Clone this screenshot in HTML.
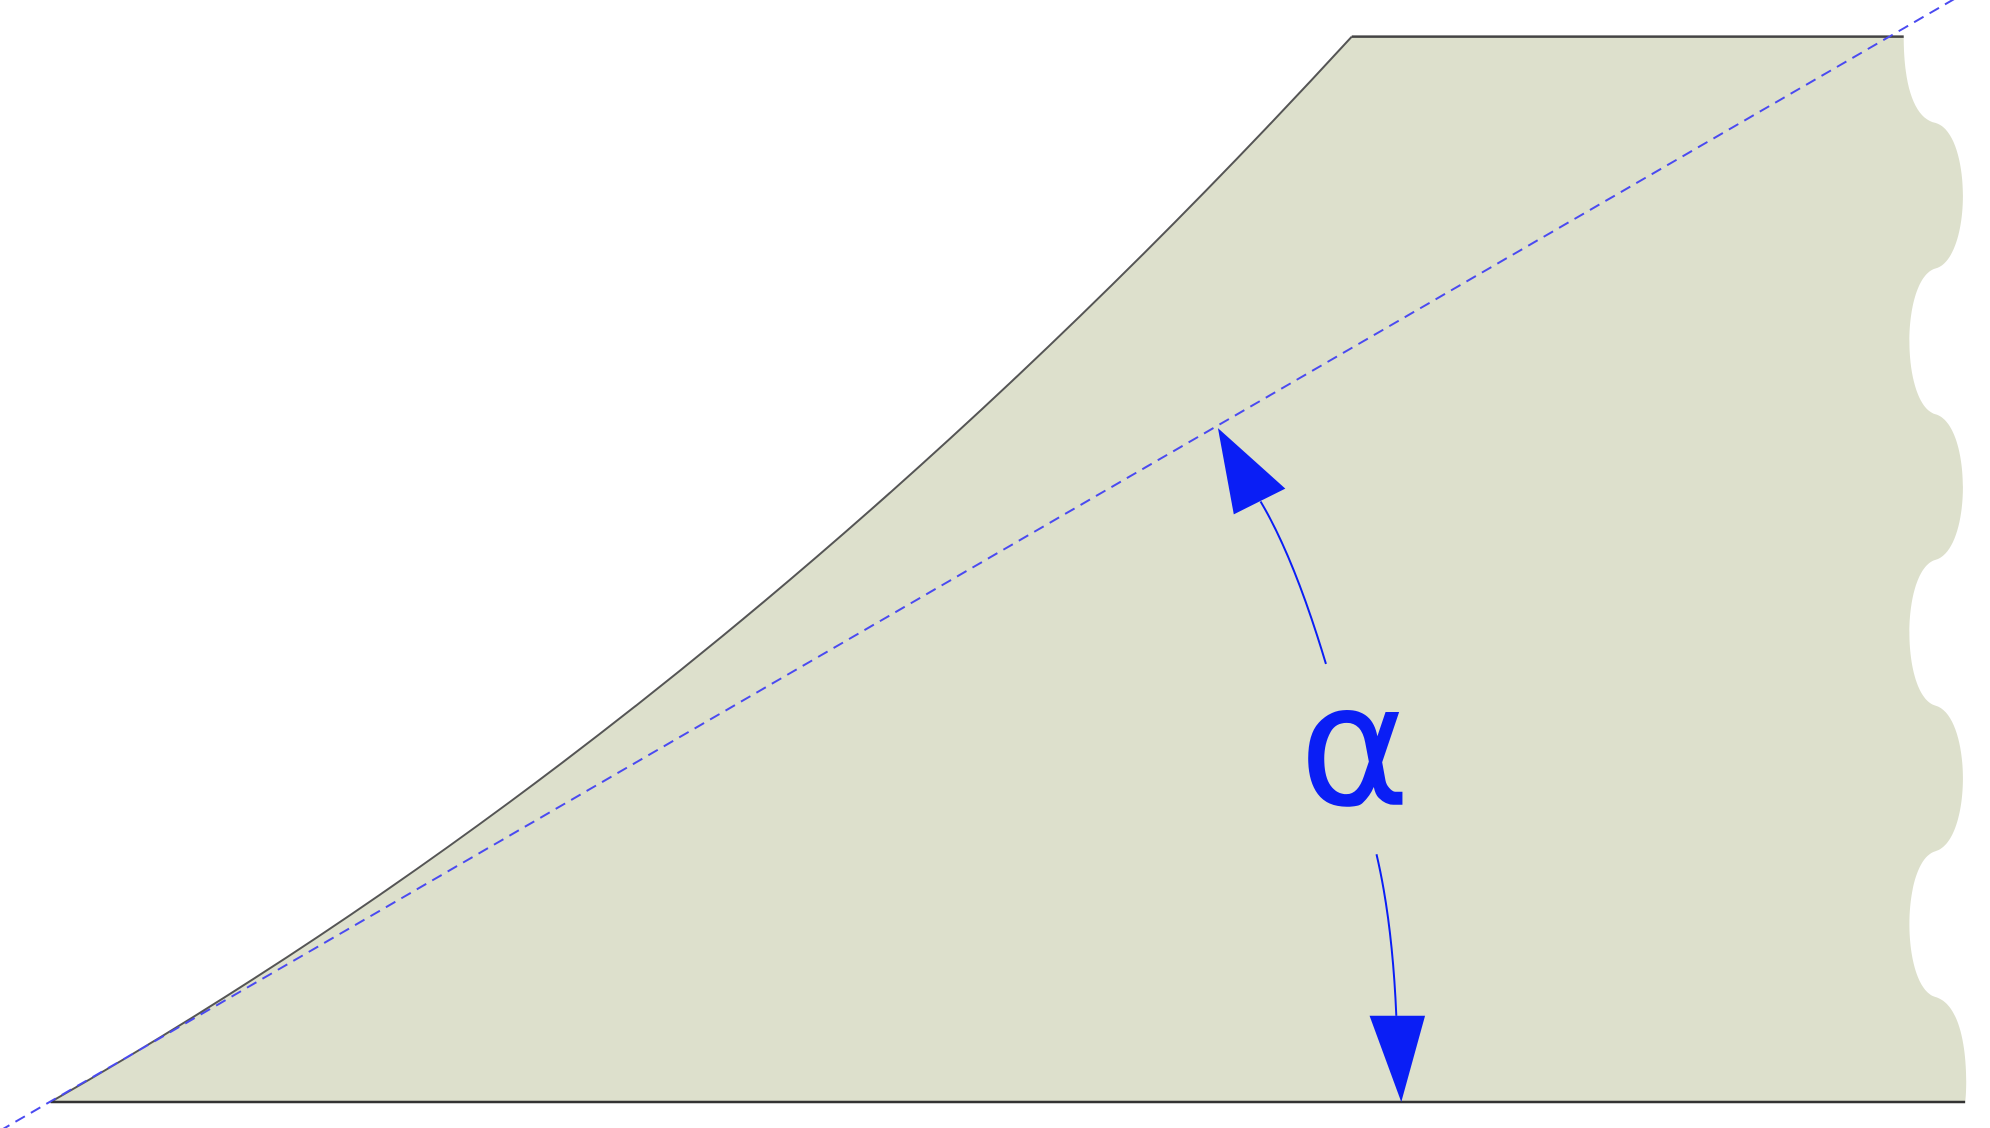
<!DOCTYPE html>
<html><head><meta charset="utf-8"><style>html,body{margin:0;padding:0;background:#fff}svg{display:block}</style></head>
<body>
<svg width="1990" height="1128" viewBox="0 0 1990 1128" xmlns="http://www.w3.org/2000/svg">
<g transform="scale(0.991)">
<path fill="#dde0cc" stroke="none"
 d="M51,1112 Q735,722 1364,37 L1921,37 C1921,90 1933,120 1953,124
 C1990,134 1990,261 1953,271 C1918,281 1918,408 1953,418
 C1990,428 1990,555 1953,565 C1918,575 1918,702 1953,712
 C1990,722 1990,849 1953,859 C1918,869 1918,996 1953,1006
 C1988,1016 1985,1100 1983,1112 Z"/>
<path d="M51,1112 Q735,722 1364,37" fill="none" stroke="#555" stroke-width="2"/>
<line x1="1364" y1="37" x2="1921" y2="37" stroke="#444" stroke-width="2.5"/>
<line x1="51" y1="1112" x2="1983" y2="1112" stroke="#333" stroke-width="2.5"/>
<line x1="0" y1="1141" x2="2010" y2="-23" stroke="#4a4af0" stroke-width="2" stroke-dasharray="11,7"/>
<path d="M1338,670 Q1306,563 1272,506" fill="none" stroke="#0a1ef5" stroke-width="2"/>
<polygon points="1229,432 1297,493 1245,519" fill="#0a1ef5"/>
<path d="M1389,862 Q1405,930 1409,1025" fill="none" stroke="#0a1ef5" stroke-width="2"/>
<polygon points="1382,1025 1438,1025 1414,1112" fill="#0a1ef5"/>
<text x="1367" y="812" text-anchor="middle" font-family="'DejaVu Sans','Liberation Sans',sans-serif" font-size="171" fill="#0a1ef5">α</text>
</g>
</svg>
</body></html>
